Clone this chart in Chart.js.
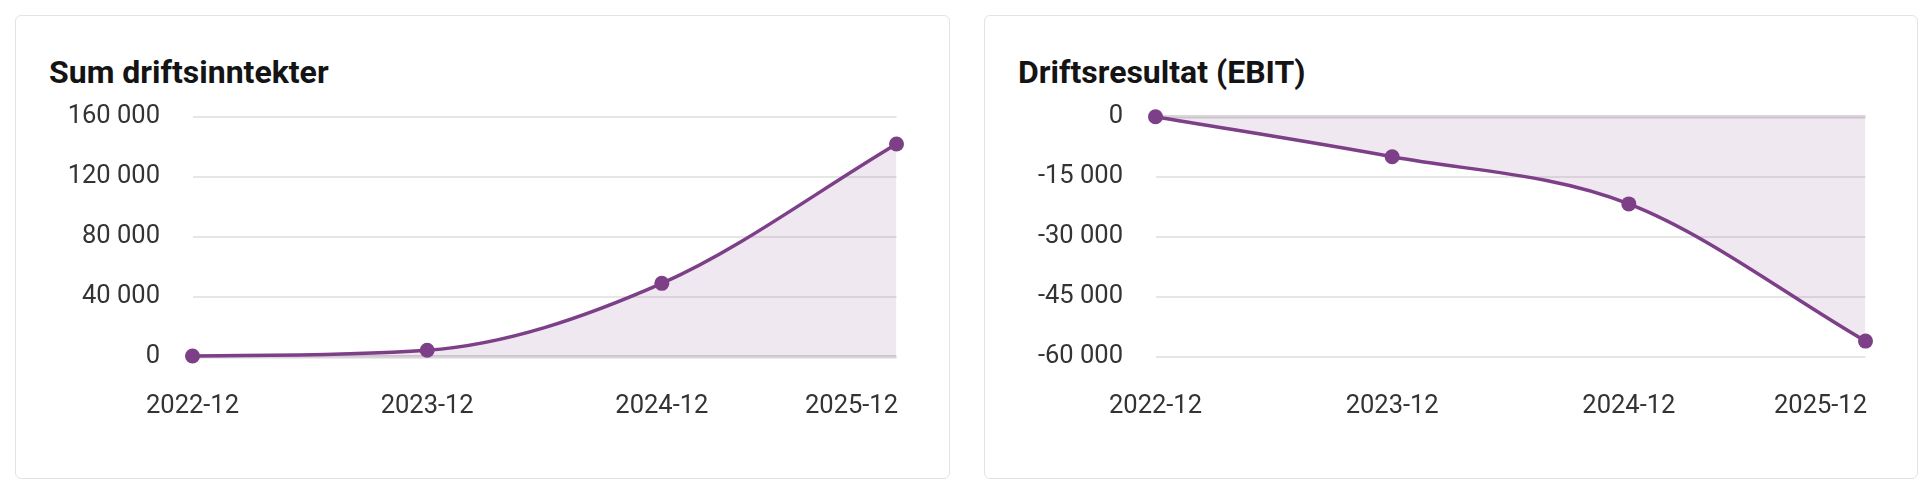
<!DOCTYPE html>
<html lang="no">
<head>
<meta charset="utf-8">
<title>Driftsinntekter og driftsresultat</title>
<script src="https://cdn.jsdelivr.net/npm/chart.js@4.4.1/dist/chart.umd.min.js"></script>
<style>
  html, body { margin: 0; padding: 0; background: #fff; }
  body { width: 1930px; height: 492px; position: relative; overflow: hidden; font-family: Roboto, "Noto Sans", sans-serif; }
  .card { position: absolute; top: 15px; height: 464px; border: 1px solid #e3e3e3; border-radius: 6px; box-sizing: border-box; background: #fff; }
  .card h2 { position: absolute; left: 33px; top: 40px; margin: 0; font-size: 32px; line-height: 32px; font-weight: 700; color: #141414; white-space: nowrap; }
  .wrap { position: absolute; top: 81px; left: 52px; width: 881px; height: 340px; }
  #c1 { left: 15px; width: 935px; }
  #c2 { left: 984px; width: 934px; }
</style>
</head>
<body>
<div class="card" id="c1">
  <h2>Sum driftsinntekter</h2>
  <div class="wrap"><canvas id="revChart"></canvas></div>
</div>
<div class="card" id="c2">
  <h2>Driftsresultat (EBIT)</h2>
  <div class="wrap"><canvas id="ebitChart"></canvas></div>
</div>
<script>
// ---------- Data ----------
const periods = ["2022-12", "2023-12", "2024-12", "2025-12"];
const revenue = [500, 4300, 48900, 141800];
const ebit = [0, -10000, -21800, -56100];
const revTicks = [0, 40000, 80000, 120000, 160000];
const ebitTicks = [-60000, -45000, -30000, -15000, 0];

const purple = "#7d3f87";
const fillPurple = "rgba(125, 63, 135, 0.12)";
const textCol = "#333333";
const tickFont = { family: "Roboto", size: 25.5 };
const xPad = 35;

// "160 000" / "-15 000" med vanlig bindestrek
const fmt = (v) => {
  const s = Math.abs(v).toString().replace(/\B(?=(\d{3})+(?!\d))/g, " ");
  return (v < 0 ? "-" : "") + s;
};

// siste x-etikett høyrejusteres mot siste punkt
const lastLabelPlugin = {
  id: "lastLabel",
  afterDraw(chart) {
    const sx = chart.scales.x;
    const i = chart.data.labels.length - 1;
    const ctx = chart.ctx;
    ctx.save();
    ctx.font = `${tickFont.size}px ${tickFont.family}`;
    ctx.fillStyle = textCol;
    ctx.textAlign = "right";
    ctx.textBaseline = "middle";
    ctx.fillText(chart.data.labels[i], sx.getPixelForTick(i) + 1.5, sx.top + xPad + tickFont.size * 0.6);
    ctx.restore();
  },
};

function makeChart(id, values, ticks, axisWidth) {
  const min = Math.min(...ticks);
  const max = Math.max(...ticks);
  return new Chart(document.getElementById(id), {
    type: "line",
    data: {
      labels: periods,
      datasets: [{
        data: values,
        borderColor: purple,
        borderWidth: 3.5,
        backgroundColor: fillPurple,
        fill: "origin",
        cubicInterpolationMode: "monotone",
        pointRadius: 7.5,
        pointHoverRadius: 7.5,
        pointBackgroundColor: purple,
        pointBorderWidth: 0,
        clip: false,
      }],
    },
    options: {
      responsive: true,
      maintainAspectRatio: false,
      animation: false,
      layout: { autoPadding: false, padding: { top: 19.7, right: 52.5, bottom: 10.3, left: 0 } },
      plugins: { legend: { display: false }, tooltip: { enabled: false } },
      scales: {
        x: {
          afterFit: (s) => { s.height = 70; s.paddingLeft = 0; s.paddingRight = 0; },
          grid: { display: false, drawTicks: false },
          border: { display: false },
          ticks: {
            padding: xPad,
            maxRotation: 0,
            autoSkip: false,
            font: tickFont,
            color: (c) => (c.index === periods.length - 1 ? "transparent" : textCol),
          },
        },
        y: {
          min, max,
          afterBuildTicks: (s) => { s.ticks = ticks.map((v) => ({ value: v })); },
          afterFit: (s) => { s.width = axisWidth; s.paddingTop = 0; s.paddingBottom = 0; },
          grid: {
            drawTicks: false,
            color: (c) => (c.tick && c.tick.value === 0 ? "#d8d4d8" : "#e6e6e6"),
            lineWidth: (c) => (c.tick && c.tick.value === 0 ? 3.5 : 2),
          },
          border: { display: false },
          ticks: { padding: 32.5, font: tickFont, color: textCol, callback: (v) => fmt(v) },
        },
      },
    },
    plugins: [lastLabelPlugin],
  });
}

makeChart("revChart", revenue, revTicks, 124.5);
makeChart("ebitChart", ebit, ebitTicks, 118.5);
</script>
</body>
</html>
